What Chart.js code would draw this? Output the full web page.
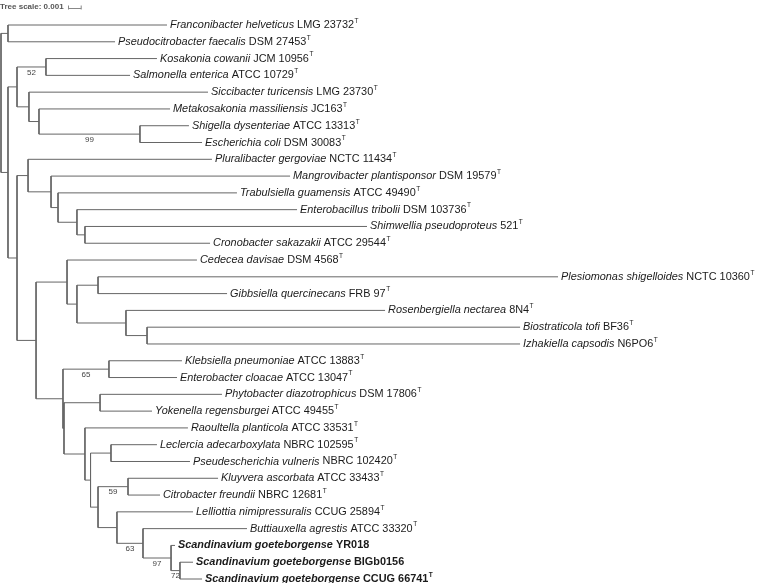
<!DOCTYPE html>
<html>
<head>
<meta charset="utf-8">
<script src="https://cdn.jsdelivr.net/npm/chart.js@4"></script>
<style>
  html, body { margin: 0; padding: 0; background: #fff; }
  canvas { display: block; }
</style>
</head>
<body>
<canvas id="tree" width="758" height="583"></canvas>
<script>
// leaves, top to bottom
const species = [
  'Franconibacter helveticus', 'Pseudocitrobacter faecalis', 'Kosakonia cowanii', 'Salmonella enterica',
  'Siccibacter turicensis', 'Metakosakonia massiliensis', 'Shigella dysenteriae', 'Escherichia coli',
  'Pluralibacter gergoviae', 'Mangrovibacter plantisponsor', 'Trabulsiella guamensis', 'Enterobacillus tribolii',
  'Shimwellia pseudoproteus', 'Cronobacter sakazakii', 'Cedecea davisae', 'Plesiomonas shigelloides',
  'Gibbsiella quercinecans', 'Rosenbergiella nectarea', 'Biostraticola tofi', 'Izhakiella capsodis',
  'Klebsiella pneumoniae', 'Enterobacter cloacae', 'Phytobacter diazotrophicus', 'Yokenella regensburgei',
  'Raoultella planticola', 'Leclercia adecarboxylata', 'Pseudescherichia vulneris', 'Kluyvera ascorbata',
  'Citrobacter freundii', 'Lelliottia nimipressuralis', 'Buttiauxella agrestis', 'Scandinavium goeteborgense',
  'Scandinavium goeteborgense', 'Scandinavium goeteborgense',
];
const strains = [
  'LMG 23732', 'DSM 27453', 'JCM 10956', 'ATCC 10729',
  'LMG 23730', 'JC163', 'ATCC 13313', 'DSM 30083',
  'NCTC 11434', 'DSM 19579', 'ATCC 49490', 'DSM 103736',
  '521', 'ATCC 29544', 'DSM 4568', 'NCTC 10360',
  'FRB 97', '8N4', 'BF36', 'N6PO6',
  'ATCC 13883', 'ATCC 13047', 'DSM 17806', 'ATCC 49455',
  'ATCC 33531', 'NBRC 102595', 'NBRC 102420', 'ATCC 33433',
  'NBRC 12681', 'CCUG 25894', 'ATCC 33320', 'YR018',
  'BIGb0156', 'CCUG 66741',
];
const typeStrain = [
  1, 1, 1, 1, 1, 1, 1, 1, 1, 1, 1, 1, 1, 1, 1, 1, 1,
  1, 1, 1, 1, 1, 1, 1, 1, 1, 1, 1, 1, 1, 1, 0, 0, 1,
];
const highlight = [31, 32, 33];

// distance from root (substitutions/site) of each leaf tip
const leafX = [
  0.01307, 0.00898, 0.01228, 0.01016, 0.01630, 0.01331, 0.01480, 0.01583,
  0.01661, 0.02276, 0.01858, 0.02331, 0.02882, 0.01646, 0.01543, 0.04386,
  0.01780, 0.03024, 0.04087, 0.04087, 0.01425, 0.01386, 0.01740, 0.01189,
  0.01472, 0.01228, 0.01488, 0.01709, 0.01252, 0.01512, 0.01937, 0.01370,
  0.01512, 0.01583,
];

// internal nodes: id, depth, children (numbers = leaves), bootstrap
const nodeIds = ['A', 'KoSa', 'F', 'E', 'D', 'B', 'L', 'K', 'J', 'I', 'H', 'P', 'R', 'Q', 'O', 'N',
  'T', 'U', 'LP', 'X', 'AB', 'AA', 'Z', 'Y', 'N98', 'V2', 'V', 'S2', 'S', 'M', 'G', 'C', 'root'];
const nodeX = [0.00055, 0.00354, 0.01094, 0.00299, 0.00220, 0.00126, 0.00661, 0.00598, 0.00449,
  0.00394, 0.00213, 0.00764, 0.01150, 0.00984, 0.00598, 0.00520, 0.00850, 0.00780, 0.00866,
  0.01000, 0.01409, 0.01339, 0.01118, 0.00913, 0.00764, 0.00705, 0.00661, 0.00496, 0.00488,
  0.00276, 0.00126, 0.00055, 0];
const nodeKids = [[0, 1], [2, 3], [6, 7], [5, 'F'], [4, 'E'], ['KoSa', 'D'], [12, 13], [11, 'L'],
  [10, 'K'], [9, 'J'], [8, 'I'], [15, 16], [18, 19], [17, 'R'], ['P', 'Q'], [14, 'O'], [20, 21],
  [22, 23], [25, 26], [27, 28], [32, 33], [31, 'AB'], [30, 'AA'], [29, 'Z'], ['X', 'Y'],
  ['LP', 'N98'], [24, 'V2'], ['U', 'V'], ['T', 'S2'], ['N', 'S'], ['H', 'M'], ['B', 'G'], ['A', 'C']];
const support = { KoSa: 52, F: 99, T: 65, X: 59, Z: 63, AA: 97, AB: 72 };

const FONT = '"Liberation Sans", Arial, sans-serif';
const LINE = '#666';

// node positions: x from nodeX, y = mean of children
const pos = {};
const parentOf = {};
function place(ref) {
  if (typeof ref === 'number') return { x: leafX[ref], y: ref };
  if (pos[ref]) return pos[ref];
  const i = nodeIds.indexOf(ref);
  const kids = nodeKids[i].map(place);
  nodeKids[i].forEach((k) => { if (typeof k !== 'number') parentOf[k] = ref; });
  pos[ref] = { x: nodeX[i], y: kids.reduce((s, k) => s + k.y, 0) / kids.length };
  return pos[ref];
}
place('root');

const datasets = nodeIds.map((id, i) => {
  const [a, b] = nodeKids[i].map(place);
  const x = nodeX[i];
  return {
    data: [{ x: a.x, y: a.y }, { x, y: a.y }, { x, y: b.y }, { x: b.x, y: b.y }],
    showLine: true,
    borderColor: LINE,
    borderWidth: 1,
    pointRadius: 0,
    tension: 0,
    clip: false,
  };
});

const labelPlugin = {
  id: 'treeLabels',
  afterDatasetsDraw(chart) {
    const { ctx } = chart;
    const xs = chart.scales.x;
    const ys = chart.scales.y;
    ctx.save();
    ctx.textBaseline = 'middle';
    ctx.textAlign = 'left';

    species.forEach((name, i) => {
      const bold = highlight.includes(i) ? 'bold ' : '';
      let x = xs.getPixelForValue(leafX[i]) + 3;
      const y = ys.getPixelForValue(i);
      ctx.fillStyle = '#1b1b1b';
      ctx.font = `italic ${bold}10.9px ${FONT}`;
      ctx.fillText(name, x, y);
      x += ctx.measureText(`${name} `).width;
      ctx.font = `${bold}10.9px ${FONT}`;
      ctx.fillText(strains[i], x, y);
      x += ctx.measureText(strains[i]).width;
      if (typeStrain[i]) {
        ctx.font = `${bold}6.5px ${FONT}`;
        ctx.fillText('T', x + 0.5, y - 4);
      }
    });

    // bootstrap values under the branch leading to the node
    ctx.font = `8px ${FONT}`;
    ctx.fillStyle = '#444';
    ctx.textAlign = 'center';
    Object.keys(support).forEach((id) => {
      const p = pos[id];
      const q = pos[parentOf[id]];
      const x = (xs.getPixelForValue(p.x) + xs.getPixelForValue(q.x)) / 2;
      ctx.fillText(String(support[id]), x, ys.getPixelForValue(p.y) + 5.5);
    });

    // scale bar
    ctx.textAlign = 'left';
    ctx.font = `bold 8px ${FONT}`;
    ctx.fillStyle = '#555';
    ctx.fillText('Tree scale: 0.001', 0, 7);
    const x0 = 68.5;
    const x1 = x0 + xs.getPixelForValue(0.001) - xs.getPixelForValue(0);
    ctx.strokeStyle = '#888';
    ctx.lineWidth = 1;
    ctx.beginPath();
    ctx.moveTo(x0, 5.5);
    ctx.lineTo(x0, 9.5);
    ctx.moveTo(x0, 8.5);
    ctx.lineTo(x1, 8.5);
    ctx.moveTo(x1, 5.5);
    ctx.lineTo(x1, 9.5);
    ctx.stroke();
    ctx.restore();
  },
};

new Chart(document.getElementById('tree'), {
  type: 'scatter',
  data: { datasets },
  options: {
    responsive: false,
    animation: false,
    events: [],
    layout: { padding: { left: 1, right: 122, top: 25, bottom: 4 } },
    scales: {
      x: { type: 'linear', min: 0, max: 0.05, display: false },
      y: { type: 'linear', min: 0, max: 33, reverse: true, display: false },
    },
    plugins: { legend: { display: false }, tooltip: { enabled: false } },
  },
  plugins: [labelPlugin],
});
</script>
</body>
</html>
